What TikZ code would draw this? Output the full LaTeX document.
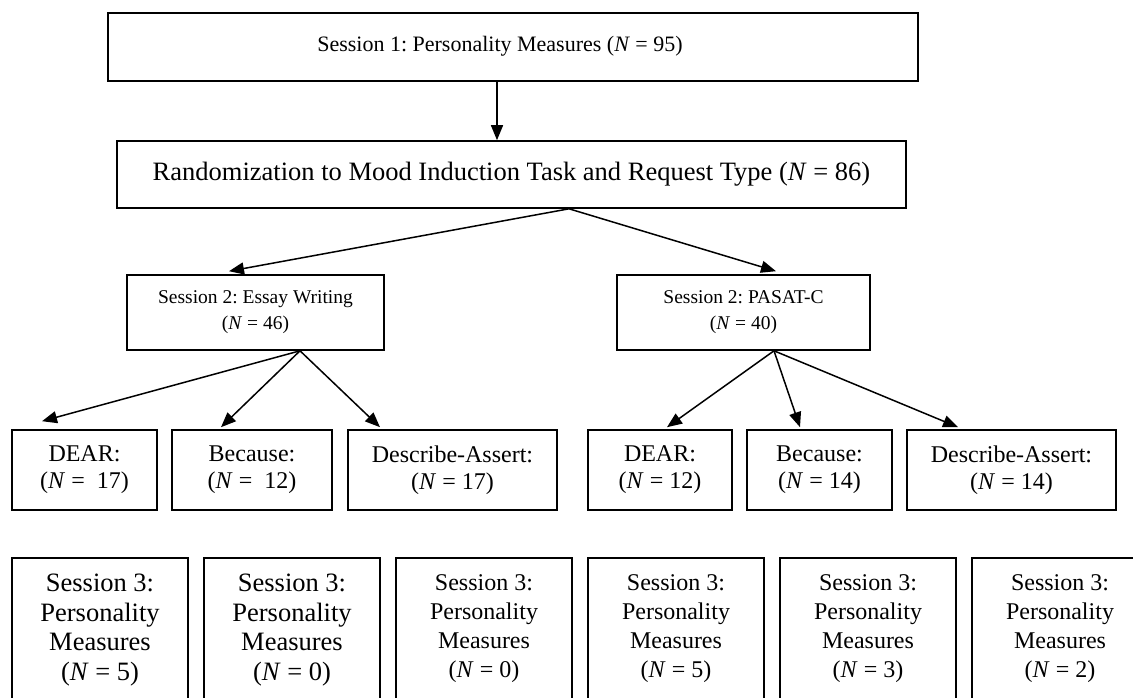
\documentclass[tikz,border=0pt]{standalone}
\usepackage{fontspec}
\setmainfont{Liberation Serif}
\usetikzlibrary{arrows.meta}
\frenchspacing
\tikzset{
  box/.style={draw, line width=1.6pt, inner sep=0pt, align=center},
  topfont/.style={font=\fontsize{22}{26}\selectfont},
  randfont/.style={font=\fontsize{26.5}{30}\selectfont},
  midfont/.style={font=\fontsize{19.5}{26}\selectfont},
  lowfont/.style={font=\fontsize{24}{27}\selectfont},
  lbox/.style={draw, line width=1.6pt, inner sep=0pt, minimum width=176pt, minimum height=200pt, anchor=north},
  btext/.style={align=center, inner sep=0pt, font=\fontsize{24}{29}\selectfont},
  btextbig/.style={align=center, inner sep=0pt, font=\fontsize{26.5}{29.5}\selectfont},
  arr/.style={line width=1.5pt, -{Triangle[length=15pt,width=12pt]}}
}
\begin{document}
\begin{tikzpicture}[x=1pt,y=-1pt]
\useasboundingbox (0,0) rectangle (1133,698);
\clip (0,0) rectangle (1133,698);
\node[box, minimum width=810pt, minimum height=68pt] (s1) at (513,47) {};
\node[topfont, inner sep=0pt] (s1t) at (500,46) {Session 1: Personality Measures (\textit{N} = 95)};
\node[box, randfont, minimum width=789pt, minimum height=67pt] (rand) at (511.5,174.5) {Randomization to Mood Induction Task and Request Type (\textit{N} = 86)};
\node[box, midfont, minimum width=257pt, minimum height=75pt] (essay) at (255.5,312.5) {Session 2: Essay Writing\\(\textit{N} = 46)};
\node[box, midfont, minimum width=253pt, minimum height=75pt] (pasat) at (743.5,312.5) {Session 2: PASAT-C\\(\textit{N} = 40)};
\node[box, lowfont, minimum width=145pt, minimum height=80pt] (d1) at (84.5,470) {DEAR:\\(\textit{N} = \ 17)};
\node[box, lowfont, minimum width=160pt, minimum height=80pt] (c1) at (252,470) {Because:\\(\textit{N} = \ 12)};
\node[box, lowfont, minimum width=209pt, minimum height=80pt] (a1) at (452.5,470) {Describe-Assert:\\(\textit{N} = 17)};
\node[box, lowfont, minimum width=144pt, minimum height=80pt] (d2) at (660,470) {DEAR:\\(\textit{N} = 12)};
\node[box, lowfont, minimum width=145pt, minimum height=80pt] (c2) at (819.5,470) {Because:\\(\textit{N} = 14)};
\node[box, lowfont, minimum width=209pt, minimum height=80pt] (a2) at (1011.5,470) {Describe-Assert:\\(\textit{N} = 14)};
\node[lbox] (b1) at (100,557) {};
\node[lbox] (b2) at (292,557) {};
\node[lbox] (b3) at (484,557) {};
\node[lbox] (b4) at (676,557) {};
\node[lbox] (b5) at (868,557) {};
\node[lbox] (b6) at (1060,557) {};
\node[btextbig] (t1) at (100,630) {Session 3:\\Personality\\Measures\\(\textit{N} = 5)};
\node[btextbig] (t2) at (292,630) {Session 3:\\Personality\\Measures\\(\textit{N} = 0)};
\node[btext] (t3) at (484,629) {Session 3:\\Personality\\Measures\\(\textit{N} = 0)};
\node[btext] (t4) at (676,629) {Session 3:\\Personality\\Measures\\(\textit{N} = 5)};
\node[btext] (t5) at (868,629) {Session 3:\\Personality\\Measures\\(\textit{N} = 3)};
\node[btext] (t6) at (1060,629) {Session 3:\\Personality\\Measures\\(\textit{N} = 2)};
\draw[arr] ([xshift=-16pt]s1.south) -- ([xshift=-14.5pt]rand.north);
\draw[arr] ([xshift=57.5pt]rand.south) -- ([xshift=-26.5pt,yshift=3pt]essay.north);
\draw[arr] ([xshift=57.5pt]rand.south) -- ([xshift=32.5pt,yshift=3pt]pasat.north);
\draw[arr] ([xshift=44.5pt]essay.south) -- ([xshift=-42.5pt,yshift=8pt]d1.north);
\draw[arr] ([xshift=44.5pt]essay.south) -- ([xshift=-31pt,yshift=2pt]c1.north);
\draw[arr] ([xshift=44.5pt]essay.south) -- ([xshift=-72.5pt,yshift=2pt]a1.north);
\draw[arr] ([xshift=30.5pt]pasat.south) -- ([xshift=7pt,yshift=2pt]d2.north);
\draw[arr] ([xshift=30.5pt]pasat.south) -- ([xshift=-19.5pt,yshift=2pt]c2.north);
\draw[arr] ([xshift=30.5pt]pasat.south) -- ([xshift=-53.5pt,yshift=2pt]a2.north);
\end{tikzpicture}
\end{document}
